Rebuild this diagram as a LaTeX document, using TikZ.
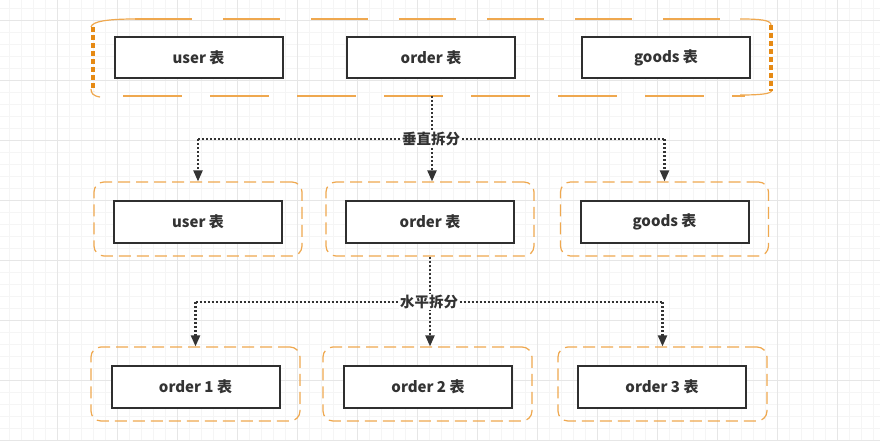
\documentclass[tikz,border=0pt]{standalone}
\usepackage{fontspec}
\setmainfont{Noto Sans CJK SC}
\usetikzlibrary{arrows.meta}
\definecolor{gridminor}{HTML}{F5F5F5}
\definecolor{gridmajor}{HTML}{E6E6E6}
\definecolor{orc}{HTML}{EFA84F}
\definecolor{orcdark}{HTML}{E68A14}
\definecolor{boxc}{HTML}{2F2F2F}
\definecolor{txt}{HTML}{333333}
\begin{document}
\begin{tikzpicture}[x=1pt,y=-1pt,
  tbl/.style={draw=boxc, line width=2, fill=white, minimum width=168, minimum height=41,
    inner sep=0pt, font=\bfseries\fontsize{15}{18}\selectfont, text=txt},
  grp/.style={draw=orc, line width=1.2, dash pattern=on 12 off 6, rounded corners=10,
    minimum width=208, minimum height=74, inner sep=0pt},
  dotl/.style={draw=txt, line width=2.2, dash pattern=on 2 off 2},
  tip/.style={-{Triangle[length=11,width=9]}},
  lbl/.style={fill=white, inner sep=1pt, text=txt, font=\bfseries\fontsize{14.5}{16}\selectfont}
]
\useasboundingbox (0,0) rectangle (880,441);
\fill[white] (0,0) rectangle (880,441);
\foreach \x in {9,21,...,880} \draw[gridminor, line width=0.8] (\x,0) -- (\x,441);
\foreach \y in {8,20,...,441} \draw[gridminor, line width=0.8] (0,\y) -- (880,\y);
\foreach \x in {57,117,...,880} \draw[gridmajor, line width=0.8] (\x,0) -- (\x,441);
\foreach \y in {20,80,...,441} \draw[gridmajor, line width=0.8] (0,\y) -- (880,\y);

% top container
\node[minimum width=682, minimum height=77, inner sep=0pt] (tc) at (432,57.5) {};
\draw[orc, line width=1.2, dash pattern=on 57 off 31] (135,19) -- (740,19);
\draw[orc, line width=1.2, dash pattern=on 59 off 28] (123,96) -- (745,96);
\draw[orc, line width=1.2] (91,27) .. controls (92,21) and (110,19) .. (135,19);
\draw[orc, line width=1.2] (91,89) .. controls (91,93) and (93,96) .. (100,97);
\draw[orc, line width=1.2] (740,19) .. controls (760,19) and (771,20) .. (771,25);
\draw[orc, line width=1.2] (772,90) .. controls (772,94) and (760,95) .. (740,95);
\draw[orcdark, line width=4.5, dash pattern=on 5 off 3] (93,27) -- (93,91);
\draw[orcdark, line width=4.5, dash pattern=on 5 off 3] (771,25) -- (771,91);

\node[tbl] (t1) at (198.5,57.5) {user 表};
\node[tbl] (t2) at (431,57.5) {order 表};
\node[tbl] (t3) at (666,57.5) {goods 表};

% middle row
\node[grp] (lc) at (198,219) {};
\node[grp] (mc) at (430,219) {};
\node[grp] (rc) at (664.5,219) {};
\node[tbl, minimum height=42] (m1) at (198,222) {user 表};
\node[tbl, minimum height=42] (m2) at (430,222) {order 表};
\node[tbl, minimum height=42] (m3) at (664.5,222) {goods 表};

% bottom row
\node[grp, minimum width=209] (lb) at (195.5,384) {};
\node[grp, minimum width=209] (mb) at (427.5,384) {};
\node[grp, minimum width=209] (rb) at (662.5,384) {};
\node[tbl, minimum height=42] (b1) at (195.5,387) {order 1 表};
\node[tbl, minimum height=42] (b2) at (428,387) {order 2 表};
\node[tbl, minimum height=42] (b3) at (662,387) {order 3 表};

% vertical split
\coordinate (h1) at (431,139);
\draw[dotl, tip] (tc.south) -- (tc.south |- mc.north);
\draw[dotl] (lc.north |- h1) -- (rc.north |- h1);
\draw[dotl, tip] (lc.north |- h1) -- (lc.north);
\draw[dotl, tip] (rc.north |- h1) -- (rc.north);
\node[lbl] (l1) at (h1) {垂直拆分};

% horizontal split
\coordinate (h2) at (429,302);
\draw[dotl, tip] (mc.south) -- (mc.south |- mb.north);
\draw[dotl] (lb.north |- h2) -- (rb.north |- h2);
\draw[dotl, tip] (lb.north |- h2) -- (lb.north);
\draw[dotl, tip] (rb.north |- h2) -- (rb.north);
\node[lbl] (l2) at (h2) {水平拆分};
\end{tikzpicture}
\end{document}
